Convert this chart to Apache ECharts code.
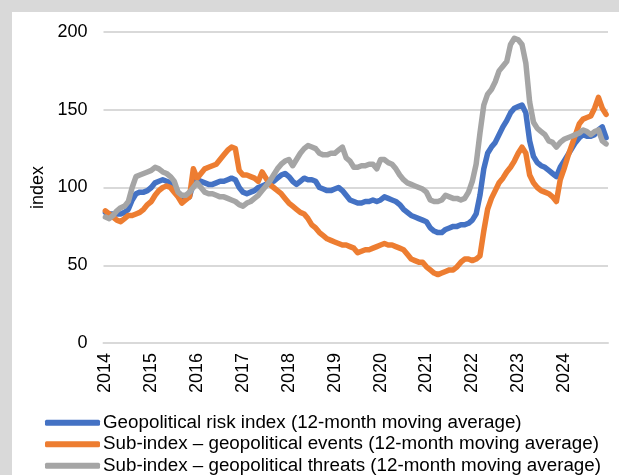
<!DOCTYPE html>
<html>
<head>
<meta charset="utf-8">
<script src="https://cdn.jsdelivr.net/npm/echarts@6/dist/echarts.min.js"></script>
<style>
  html, body { margin: 0; padding: 0; background: #d9d9d9; overflow: hidden; }
  #chart { position: absolute; left: 12px; top: 12px; width: 607px; height: 500px; background: #fff; }
</style>
</head>
<body>
<div id="chart"></div>
<script>
// monthly observations, Jan 2014 - Dec 2024
const years = [2014, 2015, 2016, 2017, 2018, 2019, 2020, 2021, 2022, 2023, 2024]

const gprIndex = [
  84, 83, 83, 83, 83, 84, 86, 92, 96, 97, 97, 98,
  100, 103, 104, 105, 104, 103, 101, 97, 94, 93, 94, 103,
  105, 104, 103, 102, 102, 103, 104, 104, 105, 106, 105, 100,
  97, 96, 97, 98, 100, 101, 102, 103, 104, 106, 108, 109,
  107, 104, 102, 104, 106, 105, 105, 104, 100, 99, 98, 98,
  99, 100, 98, 95, 92, 91, 90, 90, 91, 91, 92, 91,
  92, 94, 93, 92, 91, 89, 86, 84, 82, 81, 80, 79,
  78, 74, 72, 71, 71, 73, 74, 75, 75, 76, 76, 77,
  79, 83, 95, 112, 122, 126, 129, 134, 139, 143, 148, 151,
  152, 153, 148, 130, 120, 116, 114, 113, 111, 109, 107, 113,
  117, 121, 125, 129, 132, 134, 133, 133, 134, 137, 139, 132
]

const gprEvents = [
  85, 83, 81, 79, 78, 80, 82, 82, 83, 84, 86, 89,
  91, 95, 98, 100, 101, 100, 97, 94, 90, 92, 94, 112,
  106, 109, 112, 113, 114, 115, 118, 121, 124, 126, 125, 111,
  108, 108, 107, 106, 104, 110, 106, 102, 100, 98, 96, 93,
  90, 88, 86, 84, 83, 80, 76, 74, 71, 69, 67, 66,
  65, 64, 63, 63, 62, 61, 58, 59, 60, 60, 61, 62,
  63, 64, 63, 63, 62, 61, 60, 57, 54, 53, 52, 52,
  49, 47, 45, 44, 45, 46, 47, 47, 49, 52, 54, 54,
  53, 54, 56, 72, 86, 93, 98, 103, 106, 110, 113, 117,
  122, 126, 122, 108, 103, 100, 98, 97, 96, 94, 91, 105,
  112, 120, 127, 134, 141, 144, 145, 146, 151, 158, 151, 147
]

const gprThreats = [
  81, 80, 82, 85, 87, 88, 91, 100, 107, 108, 109, 110,
  111, 113, 112, 110, 109, 107, 104, 97, 95, 95, 97, 100,
  103, 100, 97, 96, 96, 95, 94, 94, 93, 92, 91, 89,
  88, 90, 91, 93, 95, 98, 101, 104, 108, 112, 115, 117,
  118, 114, 118, 122, 125, 127, 126, 125, 122, 121, 121, 122,
  122, 124, 126, 119, 117, 113, 113, 114, 114, 115, 115, 112,
  118, 118, 116, 115, 112, 108, 105, 103, 102, 101, 100, 99,
  97, 92, 91, 91, 92, 95, 94, 93, 93, 92, 93, 97,
  104, 115, 135, 153, 160, 163, 168, 175, 178, 181, 192, 196,
  195, 192, 180, 155, 142, 138, 136, 134, 130, 129, 126, 129,
  131, 132, 133, 134, 135, 137, 136, 134, 136, 137, 130, 128
]

const seriesNames = [
  'Geopolitical risk index (12-month moving average)',
  'Sub-index \u2013 geopolitical events (12-month moving average)',
  'Sub-index \u2013 geopolitical threats (12-month moving average)'
]
const colors = ['#4472c4', '#ed7d31', '#a5a5a5']

const months = []
years.forEach(y => {
  for (let m = 1; m <= 12; m++) months.push(y + '-' + String(m).padStart(2, '0'))
})

const chart = echarts.init(document.getElementById('chart'))
const font = 'Liberation Sans, Arial, sans-serif'

const makeLine = (name, data, color) => ({
  name,
  type: 'line',
  data,
  symbol: 'none',
  lineStyle: { color, width: 5.5, cap: 'round', join: 'round' },
  itemStyle: { color }
})

chart.setOption({
  animation: false,
  textStyle: { fontFamily: font },
  // plot area: x 103.5..608, y 32..343 on the page
  grid: { left: 91.5, right: 11, top: 20, bottom: 169 },
  legend: {
    orient: 'vertical',
    left: 33,
    top: 400,
    padding: 0,
    itemWidth: 55,
    itemHeight: 6,
    itemGap: 0,
    icon: 'roundRect',
    textStyle: { fontSize: 18.8, lineHeight: 21.5, color: '#000', fontFamily: font, padding: [0, 0, 0, -2] },
    data: seriesNames
  },
  xAxis: {
    type: 'category',
    data: months,
    boundaryGap: true,
    axisLine: { lineStyle: { color: '#d9d9d9', width: 2 } },
    axisTick: { show: false },
    axisLabel: {
      rotate: 90,
      margin: 10,
      fontSize: 18,
      color: '#000',
      interval: (idx) => idx % 12 === 0,
      formatter: (v) => v.slice(0, 4)
    }
  },
  yAxis: {
    type: 'value',
    min: 0,
    max: 200,
    interval: 50,
    name: 'index',
    nameLocation: 'middle',
    nameGap: 56,
    nameRotate: 90,
    nameTextStyle: { fontSize: 18, color: '#000' },
    axisLine: { show: false },
    axisTick: { show: false },
    axisLabel: { fontSize: 18, color: '#000', margin: 16 },
    splitLine: { lineStyle: { color: '#d9d9d9', width: 2 } }
  },
  series: [
    makeLine(seriesNames[0], gprIndex, colors[0]),
    makeLine(seriesNames[1], gprEvents, colors[1]),
    makeLine(seriesNames[2], gprThreats, colors[2])
  ]
})
</script>
</body>
</html>
